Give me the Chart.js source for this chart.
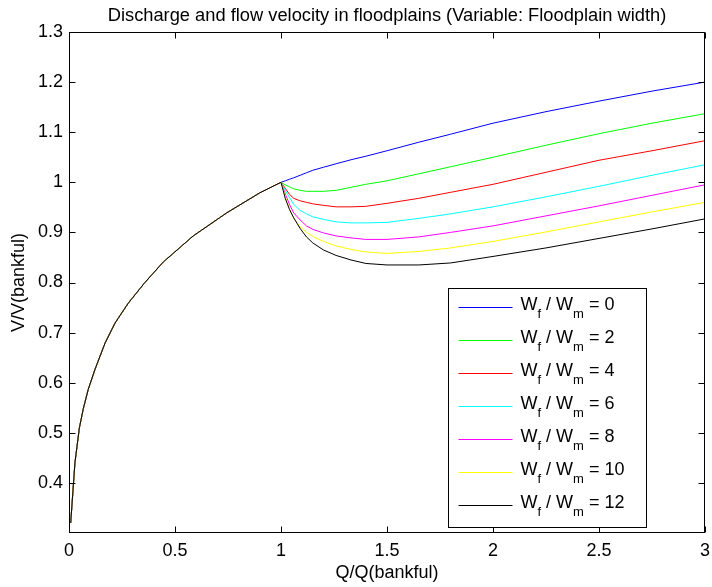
<!DOCTYPE html>
<html>
<head>
<meta charset="utf-8">
<script src="https://cdn.jsdelivr.net/npm/chart.js@4/dist/chart.umd.min.js"></script>
<style>
  html, body { margin: 0; padding: 0; background: #fff; }
  #wrap { width: 712px; height: 587px; }
</style>
</head>
<body>
<div id="wrap"><canvas id="c" width="712" height="587"></canvas></div>
<script>
const FONT = '"Liberation Sans", Arial, Helvetica, sans-serif';

// In-channel flow (below bankfull) — shared by every floodplain width
const qChannel = [0.008, 0.028, 0.049, 0.068, 0.091, 0.123, 0.17, 0.217, 0.28, 0.358, 0.445, 0.586, 0.744, 0.90, 1.0];
const vChannel = [0.32, 0.44, 0.51, 0.549, 0.587, 0.627, 0.679, 0.719, 0.759, 0.800, 0.841, 0.893, 0.939, 0.979, 1.0];

// Overbank flow (Q/Qbankful >= 1)
const qFlood = [1.0, 1.02, 1.04, 1.06, 1.09, 1.12, 1.15, 1.2, 1.26, 1.33, 1.4, 1.5, 1.65, 1.8, 2.0, 2.25, 2.5, 2.75, 3.0];

const widthRatios = [0, 2, 4, 6, 8, 10, 12];

const vW0  = [1.0, 1.003, 1.006, 1.009, 1.014, 1.019, 1.024, 1.030, 1.037, 1.045, 1.052, 1.063, 1.080, 1.096, 1.118, 1.141, 1.162, 1.182, 1.200];
const vW2  = [1.0, 0.995, 0.991, 0.987, 0.984, 0.982, 0.982, 0.982, 0.984, 0.990, 0.996, 1.003, 1.017, 1.031, 1.050, 1.074, 1.097, 1.118, 1.137];
const vW4  = [1.0, 0.988, 0.976, 0.968, 0.963, 0.960, 0.957, 0.954, 0.951, 0.951, 0.952, 0.958, 0.968, 0.980, 0.996, 1.020, 1.044, 1.063, 1.083];
const vW6  = [1.0, 0.984, 0.970, 0.956, 0.944, 0.937, 0.931, 0.926, 0.921, 0.919, 0.919, 0.920, 0.928, 0.937, 0.951, 0.971, 0.992, 1.014, 1.035];
const vW8  = [1.0, 0.977, 0.956, 0.939, 0.925, 0.913, 0.906, 0.899, 0.893, 0.889, 0.886, 0.886, 0.891, 0.900, 0.913, 0.933, 0.953, 0.974, 0.995];
const vW10 = [1.0, 0.972, 0.946, 0.928, 0.911, 0.900, 0.892, 0.882, 0.873, 0.866, 0.861, 0.858, 0.862, 0.869, 0.882, 0.901, 0.921, 0.941, 0.960];
const vW12 = [1.0, 0.968, 0.946, 0.929, 0.908, 0.891, 0.879, 0.865, 0.854, 0.845, 0.838, 0.835, 0.835, 0.839, 0.852, 0.869, 0.888, 0.907, 0.927];

const floodSeries = [vW0, vW2, vW4, vW6, vW8, vW10, vW12];
const seriesColors = ['#0000ff', '#00ff00', '#ff0000', '#00ffff', '#ff00ff', '#ffff00', '#000000'];

const xTicks = [0, 0.5, 1, 1.5, 2, 2.5, 3];
const yTicks = [0.4, 0.5, 0.6, 0.7, 0.8, 0.9, 1.0, 1.1, 1.2, 1.3];

const titleText = 'Discharge and flow velocity in floodplains (Variable: Floodplain width)';
const xTitle = 'Q/Q(bankful)';
const yTitle = 'V/V(bankful)';

// each curve = channel part followed by its floodplain branch
const datasets = floodSeries.map((vals, i) => {
  const pts = qChannel.map((q, k) => ({ x: q, y: vChannel[k] }));
  qFlood.forEach((q, k) => { if (k > 0) pts.push({ x: q, y: vals[k] }); });
  return {
    label: 'Wf / Wm = ' + widthRatios[i],
    data: pts,
    borderColor: seriesColors[i],
    backgroundColor: seriesColors[i],
    borderWidth: 1,
    pointRadius: 0,
    tension: 0,
    fill: false,
    order: floodSeries.length - 1 - i   // later series painted on top
  };
});

// box around the axes, inward tick marks, titles
const frame = {
  id: 'frame',
  afterDatasetsDraw(chart) {
    const { ctx, chartArea: a, scales: { x, y } } = chart;
    ctx.save();
    ctx.strokeStyle = '#000';
    ctx.lineWidth = 1;
    const L = Math.round(a.left) + 0.5, R = Math.round(a.right) - 0.5;
    const T = Math.round(a.top) + 0.5, B = Math.round(a.bottom) - 0.5;
    ctx.strokeRect(L, T, R - L, B - T);
    const tl = 6;
    ctx.beginPath();
    xTicks.forEach(v => {
      const px = Math.round(x.getPixelForValue(v)) + 0.5;
      ctx.moveTo(px, B); ctx.lineTo(px, B - tl);
      ctx.moveTo(px, T); ctx.lineTo(px, T + tl);
    });
    yTicks.forEach(v => {
      const py = Math.round(y.getPixelForValue(v)) + 0.5;
      ctx.moveTo(L, py); ctx.lineTo(L + tl, py);
      ctx.moveTo(R, py); ctx.lineTo(R - tl, py);
    });
    ctx.stroke();

    ctx.fillStyle = '#000';
    ctx.textAlign = 'center';
    ctx.textBaseline = 'alphabetic';
    const cx = (a.left + a.right) / 2;
    ctx.font = '18.3px ' + FONT;
    ctx.fillText(titleText, cx, 21);
    ctx.font = '18px ' + FONT;
    ctx.fillText(xTitle, cx, 578);
    ctx.save();
    ctx.translate(24, (a.top + a.bottom) / 2);
    ctx.rotate(-Math.PI / 2);
    ctx.fillText(yTitle, 0, 0);
    ctx.restore();
    ctx.restore();
  }
};

// legend box with subscripted labels
const subLegend = {
  id: 'subLegend',
  afterDraw(chart) {
    const { ctx, chartArea: a } = chart;
    const w = 198, h = 239;
    const bx = Math.round(a.right - 59 - w) + 0.5;
    const by = Math.round(a.bottom - 6 - h) + 0.5;
    ctx.save();
    ctx.fillStyle = '#fff';
    ctx.fillRect(bx, by, w, h);
    ctx.strokeStyle = '#000';
    ctx.lineWidth = 1;
    ctx.strokeRect(bx, by, w, h);
    const big = '18px ' + FONT, small = '13px ' + FONT;
    chart.data.datasets.forEach((ds, i) => {
      const ly = Math.round(by + 18 + i * 33.1) + 0.5;
      ctx.strokeStyle = ds.borderColor;
      ctx.lineWidth = 1;
      ctx.beginPath();
      ctx.moveTo(bx + 10, ly);
      ctx.lineTo(bx + 64, ly);
      ctx.stroke();
      ctx.fillStyle = '#000';
      ctx.textAlign = 'left';
      ctx.textBaseline = 'alphabetic';
      let tx = bx + 72;
      const base = ly + 2.5;
      const put = (s, sub) => {
        ctx.font = sub ? small : big;
        ctx.fillText(s, tx, sub ? base + 8 : base);
        tx += ctx.measureText(s).width;
      };
      put('W', false); put('f', true); put(' / W', false); put('m', true);
      put(' = ' + widthRatios[i], false);
    });
    ctx.restore();
  }
};

new Chart(document.getElementById('c'), {
  type: 'line',
  data: { datasets },
  options: {
    responsive: false,
    animation: false,
    layout: { padding: { top: 32, right: 7, left: 0, bottom: 0 } },
    plugins: { legend: { display: false }, tooltip: { enabled: false }, title: { display: false } },
    scales: {
      x: {
        type: 'linear', min: 0, max: 3,
        afterBuildTicks: s => { s.ticks = xTicks.map(v => ({ value: v })); },
        afterFit: s => { s.height = 54; s.paddingLeft = 0; s.paddingRight = 0; },
        grid: { display: false, drawTicks: false },
        border: { display: false },
        ticks: { padding: 7, color: '#000', autoSkip: false, maxRotation: 0,
                 font: { family: FONT, size: 18 },
                 callback: v => String(Math.round(v * 10) / 10) }
      },
      y: {
        type: 'linear', min: 0.3, max: 1.3,
        afterBuildTicks: s => { s.ticks = yTicks.map(v => ({ value: v })); },
        afterFit: s => { s.width = 69; s.paddingTop = 0; s.paddingBottom = 0; },
        grid: { display: false, drawTicks: false },
        border: { display: false },
        ticks: { padding: 6, color: '#000', autoSkip: false,
                 font: { family: FONT, size: 18 },
                 callback: v => String(Math.round(v * 10) / 10) }
      }
    }
  },
  plugins: [frame, subLegend]
});
</script>
</body>
</html>
